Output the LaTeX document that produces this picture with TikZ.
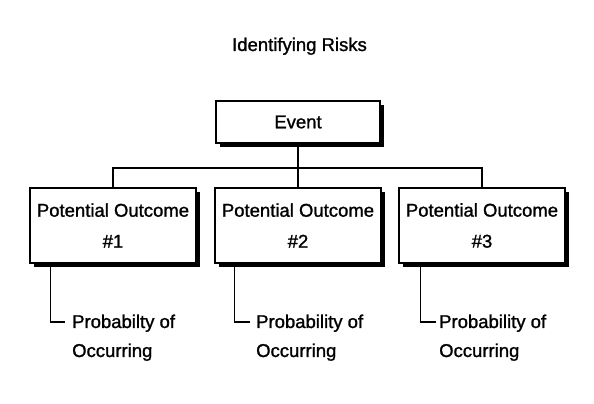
\documentclass[tikz,border=0pt]{standalone}
\usepackage{fontspec}
\setmainfont{Liberation Sans}[FakeBold=1.2]
\usetikzlibrary{shadows}
\begin{document}
\begin{tikzpicture}[x=1pt,y=-1pt,
  box/.style={draw, line width=1.3pt, fill=white, inner sep=0pt, align=center,
    font=\fontsize{18.5}{31}\selectfont,
    drop shadow={shadow xshift=3.5pt, shadow yshift=-3.5pt, fill=black, opacity=1}},
  conn/.style={line width=1.4pt},
  lbl/.style={inner sep=0pt, align=left, anchor=west, font=\fontsize{18.5}{29}\selectfont}]
\useasboundingbox[fill=white] (0,0) rectangle (594,404);
% title
\node[inner sep=0pt, anchor=base, font=\fontsize{18.5}{22}\selectfont] (title) at (299.5,51) {Identifying Risks};
% boxes
\node[box, minimum width=164pt, minimum height=42pt] (ev) at (298,122) {Event};
\node[box, minimum width=166pt, minimum height=75pt] (o1) at (113,225.5) {Potential Outcome\\\#1};
\node[box, minimum width=166pt, minimum height=75pt] (o2) at (298,225.5) {Potential Outcome\\\#2};
\node[box, minimum width=166pt, minimum height=75pt] (o3) at (482,225.5) {Potential Outcome\\\#3};
% tree connectors
\coordinate (bus) at (298,168);
\draw[conn] (ev.south) -- (o2.north);
\draw[conn] (o1.north) |- (bus) -| (o3.north);
% probability labels
\node[lbl] (p1) at (72,337.7) {Probabilty of\\Occurring};
\node[lbl] (p2) at (256,337.7) {Probability of\\Occurring};
\node[lbl] (p3) at (439,337.7) {Probability of\\Occurring};
\draw[conn] ([xshift=21pt]o1.south west) |- ([xshift=-7pt,yshift=-7.5pt]p1.north west);
\draw[conn] ([xshift=20pt]o2.south west) |- ([xshift=-6pt,yshift=-7.5pt]p2.north west);
\draw[conn] ([xshift=22pt]o3.south west) |- ([xshift=-3pt,yshift=-7.5pt]p3.north west);
\end{tikzpicture}
\end{document}
